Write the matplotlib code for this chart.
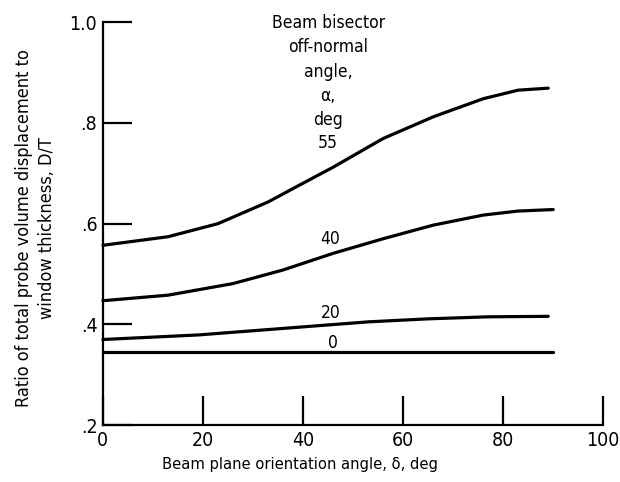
import matplotlib
matplotlib.use("Agg")
import matplotlib.pyplot as plt

plt.rcParams['font.family'] = ['DejaVu Sans']
plt.rcParams['font.stretch'] = 'condensed'

# beam plane orientation angle, deg
delta_55 = [0, 13, 23, 33, 39, 46, 56, 66, 76, 83, 89]
ratio_55 = [0.557, 0.574, 0.600, 0.643, 0.675, 0.712, 0.769, 0.812, 0.848, 0.865, 0.869]

delta_40 = [0, 13, 26, 36, 46, 56, 66, 76, 83, 90]
ratio_40 = [0.447, 0.458, 0.481, 0.508, 0.541, 0.570, 0.597, 0.617, 0.625, 0.628]

delta_20 = [0, 19, 36, 53, 65, 77, 89]
ratio_20 = [0.370, 0.379, 0.392, 0.405, 0.411, 0.415, 0.416]

delta_0 = [0, 90]
ratio_0 = [0.346, 0.346]

x_ticks = [0, 20, 40, 60, 80, 100]
y_ticks = [0.2, 0.4, 0.6, 0.8, 1.0]
y_ticklabels = ['.2', '.4', '.6', '.8', '1.0']

fig = plt.figure(figsize=(6.2, 4.82), dpi=100)
ax = fig.add_axes([0.166, 0.118, 0.807, 0.836])

for xs, ys in [(delta_55, ratio_55), (delta_40, ratio_40),
               (delta_20, ratio_20), (delta_0, ratio_0)]:
    ax.plot(xs, ys, color='black', lw=2.3, solid_joinstyle='round',
            solid_capstyle='round', clip_on=False)

ax.set_xlim(0, 100)
ax.set_ylim(0.2, 1.0)
ax.spines['top'].set_visible(False)
ax.spines['right'].set_visible(False)
for s in ['left', 'bottom']:
    ax.spines[s].set_linewidth(1.6)

ax.set_xticks(x_ticks)
ax.set_yticks(y_ticks)
ax.set_yticklabels(y_ticklabels)
ax.tick_params(direction='in', length=21, width=1.6, labelsize=14, pad=4)

ax.set_xlabel('Beam plane orientation angle, δ, deg', fontsize=11.8)
ax.xaxis.set_label_coords(0.394, -0.078)
ax.set_ylabel('Ratio of total probe volume displacement to\nwindow thickness, D/T',
              fontsize=13, linespacing=1.35)
ax.yaxis.set_label_coords(-0.094, 0.49)

# curve labels and legend heading
ax.text(45, 1.016, 'Beam bisector\noff-normal\nangle,\nα,\ndeg', ha='center',
        va='top', fontsize=12.5, linespacing=1.45)
ax.text(45, 0.76, '55', ha='center', va='center', fontsize=12.5)
ax.text(45.5, 0.569, '40', ha='center', va='center', fontsize=12.5)
ax.text(45.5, 0.423, '20', ha='center', va='center', fontsize=12.5)
ax.text(46, 0.363, '0', ha='center', va='center', fontsize=12.5)

fig.savefig('out.png', dpi=100)
